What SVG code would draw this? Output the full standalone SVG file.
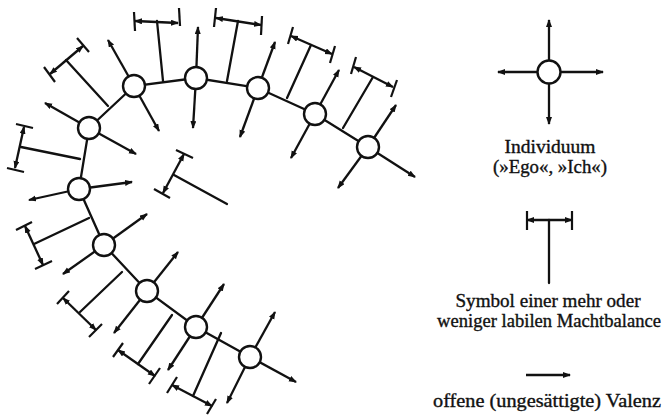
<svg xmlns="http://www.w3.org/2000/svg" width="666" height="415" viewBox="0 0 666 415">
<defs>
<marker id="ah" markerUnits="userSpaceOnUse" markerWidth="9" markerHeight="7" refX="7" refY="3" orient="auto-start-reverse">
<path d="M0,0 L8,3 L0,6 z" fill="#111"/>
</marker>
<style>
.ln{stroke:#111;stroke-width:2.3;fill:none;stroke-linecap:round}
.ar{stroke:#111;stroke-width:2.3;fill:none;marker-end:url(#ah)}
.bar{stroke:#111;stroke-width:2.3;fill:none;marker-start:url(#ah);marker-end:url(#ah)}
.tk{stroke:#111;stroke-width:2.2;fill:none}
.nd{fill:#fff;stroke:#111;stroke-width:2.4}
.tx{font-family:"Liberation Serif","DejaVu Serif",serif;font-size:18px;fill:#111;stroke:#111;stroke-width:0.35;text-anchor:middle}
</style>
</defs>
<rect width="666" height="415" fill="#fff"/>
<g id="connectors">
<polyline class="ln" points="368,147 315,114 258,88 196,78 134,86 89,128 79,189 104,245 147,291 196,327 250,357"/>
<!-- balance A-B -->
<g><line class="ln" x1="343" y1="128" x2="373" y2="77"/><line class="bar" x1="354" y1="67" x2="393" y2="87"/><line class="tk" x1="356" y1="57" x2="351" y2="74"/><line class="tk" x1="397" y1="80" x2="391" y2="97"/></g>
<!-- balance B-C -->
<g><line class="ln" x1="287" y1="98" x2="311" y2="45"/><line class="bar" x1="291" y1="36" x2="332" y2="54"/><line class="tk" x1="293" y1="27" x2="288" y2="44"/><line class="tk" x1="335" y1="46" x2="330" y2="63"/></g>
<!-- balance C-D -->
<g><line class="ln" x1="227" y1="81" x2="238" y2="21"/><line class="bar" x1="216" y1="18" x2="261" y2="25"/><line class="tk" x1="216" y1="8" x2="214" y2="27"/><line class="tk" x1="262" y1="16" x2="261" y2="35"/></g>
<!-- balance D-E -->
<g><line class="ln" x1="163" y1="81" x2="157" y2="21"/><line class="bar" x1="135" y1="21" x2="178" y2="23"/><line class="tk" x1="134" y1="12" x2="135" y2="31"/><line class="tk" x1="179" y1="8" x2="180" y2="26"/></g>
<!-- balance E-F -->
<g><line class="ln" x1="108" y1="106" x2="66" y2="60"/><line class="bar" x1="50" y1="74" x2="83" y2="46"/><line class="tk" x1="44" y1="67" x2="55" y2="82"/><line class="tk" x1="77" y1="38" x2="89" y2="52"/></g>
<!-- balance F-G -->
<g><line class="ln" x1="80" y1="159" x2="21" y2="147"/><line class="bar" x1="24" y1="127" x2="15" y2="168"/><line class="tk" x1="16" y1="124" x2="33" y2="128"/><line class="tk" x1="7" y1="168" x2="24" y2="172"/></g>
<!-- balance G-H -->
<g><line class="ln" x1="89" y1="218" x2="34" y2="244"/><line class="bar" x1="25" y1="226" x2="43" y2="265"/><line class="tk" x1="16" y1="230" x2="32" y2="222"/><line class="tk" x1="35" y1="269" x2="52" y2="261"/></g>
<!-- balance H-I -->
<g><line class="ln" x1="122" y1="272" x2="80" y2="312"/><line class="bar" x1="63" y1="298" x2="96" y2="330"/><line class="tk" x1="57" y1="304" x2="69" y2="291"/><line class="tk" x1="89" y1="337" x2="102" y2="324"/></g>
<!-- balance I-J -->
<g><line class="ln" x1="172" y1="315" x2="138" y2="364"/><line class="bar" x1="118" y1="350" x2="155" y2="376"/><line class="tk" x1="113" y1="357" x2="123" y2="343"/><line class="tk" x1="149" y1="384" x2="160" y2="368"/></g>
<!-- balance J-K -->
<g><line class="ln" x1="221" y1="333" x2="193" y2="396"/><line class="bar" x1="172" y1="385" x2="212" y2="406"/><line class="tk" x1="167" y1="393" x2="177" y2="377"/><line class="tk" x1="207" y1="414" x2="216" y2="399"/></g>
<!-- detached balance -->
<g><line class="ln" x1="227" y1="204" x2="174" y2="175"/><line class="bar" x1="184" y1="154" x2="163" y2="193"/><line class="tk" x1="176" y1="150" x2="193" y2="158"/><line class="tk" x1="154" y1="189" x2="170" y2="198"/></g>
</g>
<g id="nA"><line class="ar" x1="368" y1="147" x2="396" y2="105"/><line class="ar" x1="368" y1="147" x2="415" y2="177"/><line class="ar" x1="368" y1="147" x2="338" y2="188"/><circle class="nd" cx="368" cy="147" r="11"/></g>
<g id="nB"><line class="ar" x1="315" y1="114" x2="339" y2="70"/><line class="ar" x1="315" y1="114" x2="291" y2="158"/><circle class="nd" cx="315" cy="114" r="11"/></g>
<g id="nC"><line class="ar" x1="258" y1="88" x2="275" y2="42"/><line class="ar" x1="258" y1="88" x2="240" y2="137"/><circle class="nd" cx="258" cy="88" r="11"/></g>
<g id="nD"><line class="ar" x1="196" y1="78" x2="198" y2="27"/><line class="ar" x1="196" y1="78" x2="193" y2="128"/><circle class="nd" cx="196" cy="78" r="11"/></g>
<g id="nE"><line class="ar" x1="134" y1="86" x2="108" y2="40"/><line class="ar" x1="134" y1="86" x2="159" y2="131"/><circle class="nd" cx="134" cy="86" r="11"/></g>
<g id="nF"><line class="ar" x1="89" y1="128" x2="45" y2="103"/><line class="ar" x1="89" y1="128" x2="136" y2="154"/><circle class="nd" cx="89" cy="128" r="11"/></g>
<g id="nG"><line class="ar" x1="79" y1="189" x2="132" y2="182"/><line class="ar" x1="79" y1="189" x2="29" y2="200"/><circle class="nd" cx="79" cy="189" r="11"/></g>
<g id="nH"><line class="ar" x1="104" y1="245" x2="147" y2="214"/><line class="ar" x1="104" y1="245" x2="63" y2="274"/><circle class="nd" cx="104" cy="245" r="11"/></g>
<g id="nI"><line class="ar" x1="147" y1="291" x2="178" y2="252"/><line class="ar" x1="147" y1="291" x2="114" y2="333"/><circle class="nd" cx="147" cy="291" r="11"/></g>
<g id="nJ"><line class="ar" x1="196" y1="327" x2="224" y2="284"/><line class="ar" x1="196" y1="327" x2="168" y2="370"/><circle class="nd" cx="196" cy="327" r="11"/></g>
<g id="nK"><line class="ar" x1="250" y1="357" x2="275" y2="312"/><line class="ar" x1="250" y1="357" x2="296" y2="382"/><line class="ar" x1="250" y1="357" x2="227" y2="403"/><circle class="nd" cx="250" cy="357" r="11"/></g>
<g id="legend-individuum">
<line class="ar" x1="549" y1="72" x2="549" y2="20"/><line class="ar" x1="549" y1="72" x2="549" y2="124"/><line class="ar" x1="549" y1="72" x2="498" y2="72"/><line class="ar" x1="549" y1="72" x2="603" y2="72"/>
<circle class="nd" cx="549" cy="72" r="11.5"/>
<text class="tx" x="550" y="153" textLength="91" lengthAdjust="spacingAndGlyphs">Individuum</text>
<text class="tx" x="550" y="173" textLength="114" lengthAdjust="spacingAndGlyphs">(»Ego«, »Ich«)</text>
</g>
<g id="legend-balance">
<line class="ln" x1="549" y1="220" x2="549" y2="283"/><line class="bar" x1="527" y1="220" x2="572" y2="220"/><line class="tk" x1="527" y1="211" x2="527" y2="230"/><line class="tk" x1="572" y1="211" x2="572" y2="230"/>
<text class="tx" x="548" y="307" textLength="185" lengthAdjust="spacingAndGlyphs">Symbol einer mehr oder</text>
<text class="tx" x="549" y="327" textLength="224" lengthAdjust="spacingAndGlyphs">weniger labilen Machtbalance</text>
</g>
<g id="legend-valenz">
<line class="ar" x1="526" y1="375" x2="570" y2="375"/>
<text class="tx" x="547" y="407" textLength="228" lengthAdjust="spacingAndGlyphs">offene (ungesättigte) Valenz</text>
</g>
</svg>
